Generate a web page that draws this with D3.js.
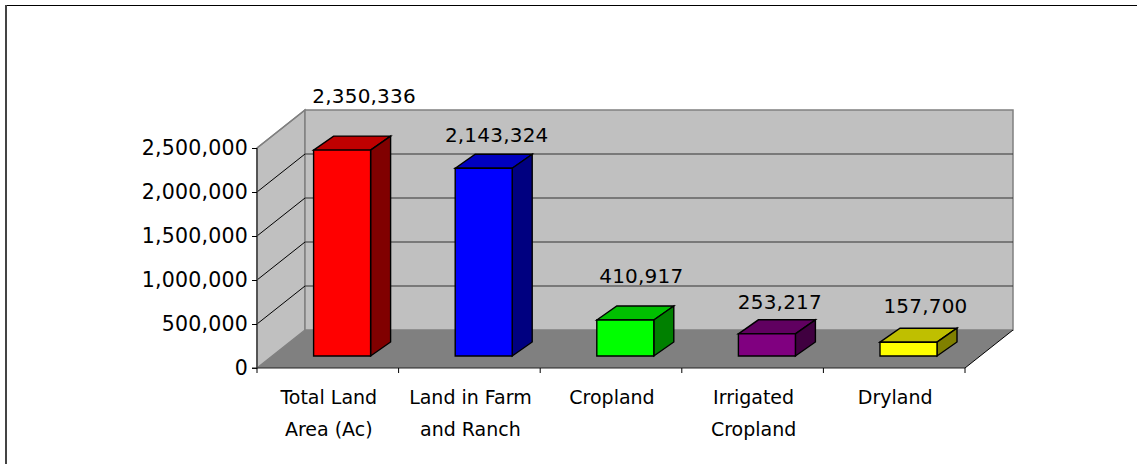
<!DOCTYPE html>
<html><head><meta charset="utf-8">
<script src="https://cdn.jsdelivr.net/npm/d3@7"></script>
<style>html,body{margin:0;padding:0;background:#fff}svg{display:block}text{font-family:"DejaVu Sans",sans-serif;fill:#000}</style>
</head><body><div id="c"></div>
<script>
const categories=[["Total Land","Area (Ac)"],["Land in Farm","and Ranch"],["Cropland"],["Irrigated","Cropland"],["Dryland"]];
const values=[2350336,2143324,410917,253217,157700];
const frontColors=["#ff0000","#0000ff","#00ff00","#800080","#ffff00"];
const topColors=["#bf0000","#0000bf","#00bf00","#600060","#bfbf00"];
const sideColors=["#800000","#000080","#008000","#400040","#808000"];
const yTicks=[0,500000,1000000,1500000,2000000,2500000];
const labelNudgeX=[22,13,16,13,17];
const labelNudgeY=[-47,-26,-37,-25,-29];

const W=1137,H=464;
const x0=257,x1=965,yB=368,yT=148,dX=48,dY=38;
const barDX=20,barDY=14,baseOffX=14.3,baseOffY=12;
const svg=d3.select("#c").append("svg").attr("width",W).attr("height",H);
const x=d3.scaleBand().domain(d3.range(categories.length)).range([x0,x1]);
const y=d3.scaleLinear().domain([0,2500000]).range([yB,yT]);
const yBar=d3.scaleLinear().domain([0,2500000]).range([yB-baseOffY,137]);
const fmt=d3.format(",");
const barW=57;
const poly=(pts,fill,stroke,sw)=>svg.append("polygon").attr("points",pts.map(p=>p.join(",")).join(" ")).attr("fill",fill).attr("stroke",stroke).attr("stroke-width",sw).attr("stroke-linejoin","miter");

// frame: top and left edges only
svg.append("line").attr("x1",5).attr("x2",W).attr("y1",5.5).attr("y2",5.5).attr("stroke","#000");
svg.append("line").attr("x1",6).attr("x2",6).attr("y1",5).attr("y2",H).attr("stroke","#444").attr("stroke-width",2);

// walls
poly([[x0,yB],[x0,yT],[x0+dX,yT-dY],[x0+dX,yB-dY]],"#c0c0c0","#808080",1.5);
poly([[x0+dX,yT-dY],[x1+dX,yT-dY],[x1+dX,yB-dY],[x0+dX,yB-dY]],"#c0c0c0","#808080",1.5);
// floor
poly([[x0,yB],[x0+dX,yB-dY],[x1+dX,yB-dY],[x1,yB]],"#808080","none",0);

// gridlines
yTicks.slice(1).forEach(t=>{
  const yy=y(t),top=t===2500000;
  svg.append("line").attr("x1",x0).attr("y1",yy).attr("x2",x0+dX).attr("y2",yy-dY).attr("stroke",top?"#808080":"#000").attr("stroke-width",top?1.5:1);
  if(!top) svg.append("line").attr("x1",x0+dX).attr("y1",yy-dY).attr("x2",x1+dX).attr("y2",yy-dY).attr("stroke","#333").attr("stroke-width",1.2);
});
svg.append("line").attr("x1",x1).attr("y1",yB).attr("x2",x1+dX).attr("y2",yB-dY).attr("stroke","#000");

// axes
const yAxis=d3.axisLeft(y).tickValues(yTicks).tickFormat(fmt).tickSize(5).tickPadding(4);
const gy=svg.append("g").attr("transform",`translate(${x0},0)`).call(yAxis);
gy.select(".domain").attr("stroke","#444").attr("stroke-width",1.6).attr("d",`M0,${yT}V${yB}`);
gy.selectAll("line").attr("stroke","#000");
gy.selectAll("text").style("font-size","20.5px").style("letter-spacing","0.2px").style("font-family","'DejaVu Sans'");

const gx=svg.append("g");
gx.append("line").attr("x1",x0-5).attr("x2",x1).attr("y1",yB).attr("y2",yB).attr("stroke","#222").attr("stroke-width",1.2);
d3.range(categories.length+1).forEach(i=>{
  const px=i<categories.length?x(i):x1;
  gx.append("line").attr("x1",px).attr("x2",px).attr("y1",yB).attr("y2",yB+5).attr("stroke","#000");
});
categories.forEach((c,i)=>{
  c.forEach((line,j)=>{
    gx.append("text").attr("x",x(i)+x.bandwidth()/2+1).attr("y",404+j*32).attr("text-anchor","middle").style("font-size","19px").text(line);
  });
});

// bars
values.forEach((v,i)=>{
  const cx=x(i)+x.bandwidth()/2+baseOffX;
  const l=cx-barW/2,r=cx+barW/2,b=yBar(0),t=yBar(v);
  poly([[l,t],[l+barDX,t-barDY],[r+barDX,t-barDY],[r,t]],topColors[i],"#000",1.4);
  poly([[r,t],[r+barDX,t-barDY],[r+barDX,b-barDY],[r,b]],sideColors[i],"#000",1.4);
  poly([[l,t],[r,t],[r,b],[l,b]],frontColors[i],"#000",1.4);
  svg.append("text").attr("x",cx+labelNudgeX[i]).attr("y",t+labelNudgeY[i]).attr("text-anchor","middle").style("font-size","20px").style("letter-spacing","0.2px").text(fmt(v));
});
</script></body></html>
